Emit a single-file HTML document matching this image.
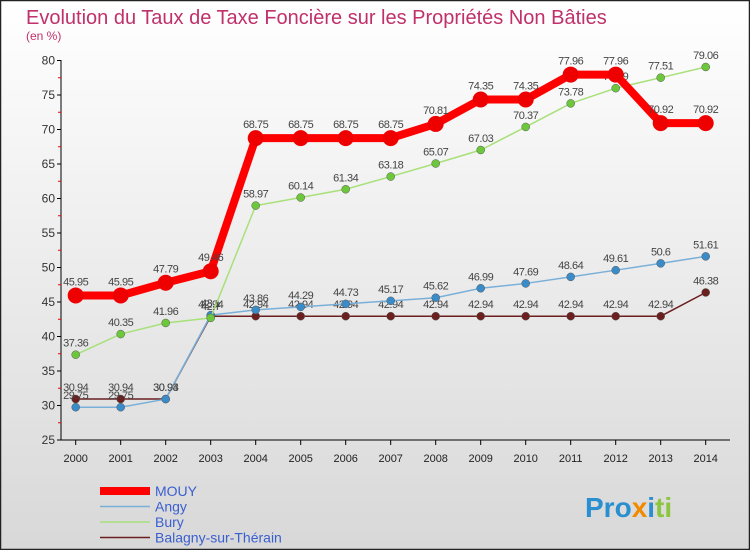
<!DOCTYPE html>
<html><head><meta charset="utf-8"><style>
body{margin:0;width:750px;height:550px;overflow:hidden;font-family:"Liberation Sans",sans-serif}
</style></head><body>
<svg width="750" height="550" xmlns="http://www.w3.org/2000/svg">
<defs><linearGradient id="bg" x1="0" y1="0" x2="0" y2="1"><stop offset="0" stop-color="#ffffff"/><stop offset="1" stop-color="#d8d8d8"/></linearGradient></defs>
<rect x="0.5" y="0.5" width="749" height="549" fill="url(#bg)" stroke="#222" stroke-width="1.5"/>
<text x="26" y="24" font-size="20" fill="#c0306a">Evolution du Taux de Taxe Foncière sur les Propriétés Non Bâties</text>
<text x="26" y="40" font-size="12" fill="#c0306a">(en %)</text>
<g id="axes"></g><g id="series"></g><g id="legend"></g>
<text x="585" y="517" font-size="28" font-weight="bold" font-family="Liberation Sans"><tspan fill="#2a8fd0">Pro</tspan><tspan fill="#f08a00">x</tspan><tspan fill="#2a8fd0">i</tspan><tspan fill="#8cc63f">ti</tspan></text>
</svg>
<script>
const years=[2000,2001,2002,2003,2004,2005,2006,2007,2008,2009,2010,2011,2012,2013,2014];
const yTicks=[25,30,35,40,45,50,55,60,65,70,75,80];
const mouy=[45.95,45.95,47.79,49.46,68.75,68.75,68.75,68.75,70.81,74.35,74.35,77.96,77.96,70.92,70.92];
const angy=[29.75,29.75,30.93,43.1,43.86,44.29,44.73,45.17,45.62,46.99,47.69,48.64,49.61,50.6,51.61];
const bury=[37.36,40.35,41.96,42.7,58.97,60.14,61.34,63.18,65.07,67.03,70.37,73.78,75.99,77.51,79.06];
const balagny=[30.94,30.94,30.94,42.94,42.94,42.94,42.94,42.94,42.94,42.94,42.94,42.94,42.94,42.94,46.38];
const names=["MOUY","Angy","Bury","Balagny-sur-Thérain"];
const NS="http://www.w3.org/2000/svg";
const xs=i=>75.7+i*45;
const ys=v=>440-(v-25)*6.9;
function mk(t,a,p){const e=document.createElementNS(NS,t);for(const k in a)e.setAttribute(k,a[k]);p.appendChild(e);return e;}
const ax=document.getElementById('axes');
let l=mk('line',{x1:61,y1:60,x2:61,y2:440,stroke:'#000'},ax);


l=mk('line',{x1:61,y1:440,x2:730,y2:440,stroke:'#000'},ax);


yTicks.forEach(v=>{const y=ys(v);
 mk('line',{x1:57,y1:y,x2:61,y2:y,stroke:'#000'},ax);
 if(v<80)mk('line',{x1:58,y1:y-17.25,x2:61,y2:y-17.25,stroke:'#e00'},ax);
 const t=mk('text',{x:55,y:y+4,'font-size':12,fill:'#333','text-anchor':'end'},ax);t.textContent=v;
 
 });
years.forEach((yr,i)=>{const x=xs(i);
 mk('line',{x1:x,y1:440,x2:x,y2:445,stroke:'#000'},ax);
 const t=mk('text',{x:x,y:462,'font-size':11,fill:'#222','text-anchor':'middle'},ax);t.textContent=yr;
 
 });
const sg=document.getElementById('series');
const defs=[[balagny,'#6b1f1f','#6b1f1f',1.5,4,'balagny'],[angy,'#7ab0d8','#3a8cc8',1.5,4,'angy'],[bury,'#a8e07a','#6cc83a',1.5,4,'bury'],[mouy,'#ff0000','#ee0000',8,8,'mouy']];
defs.forEach(([d,lc,pc,w,r,n])=>{const g=mk('g',{},sg);
 
 
 mk('polyline',{points:d.map((v,i)=>xs(i)+','+ys(v)).join(' '),fill:'none',stroke:lc,'stroke-width':w},g);
 d.forEach((v,i)=>{const c=mk('circle',{cx:xs(i),cy:ys(v),r:r,fill:pc,stroke:n=='mouy'?'none':'#555','stroke-width':0.5},g);
  
  
  const t=mk('text',{x:xs(i),y:ys(v)-(n=='mouy'?10:8),'font-size':11,fill:'#444','text-anchor':'middle','letter-spacing':'-0.5'},g);t.textContent=v;
  
  });});
const lg=document.getElementById('legend');
const lcols=[['#ff0000',8],['#7ab0d8',1.5],['#a8e07a',1.5],['#6b1f1f',1.5]];
names.forEach((n,i)=>{const y=491+i*15.5;const g=mk('g',{},lg);
 
 
 mk('line',{x1:100,y1:y,x2:150,y2:y,stroke:lcols[i][0],'stroke-width':lcols[i][1]},g);
 const t=mk('text',{x:155,y:y+5,'font-size':14,fill:'#3a5fd0'},g);t.textContent=n;});
</script>
</body></html>
